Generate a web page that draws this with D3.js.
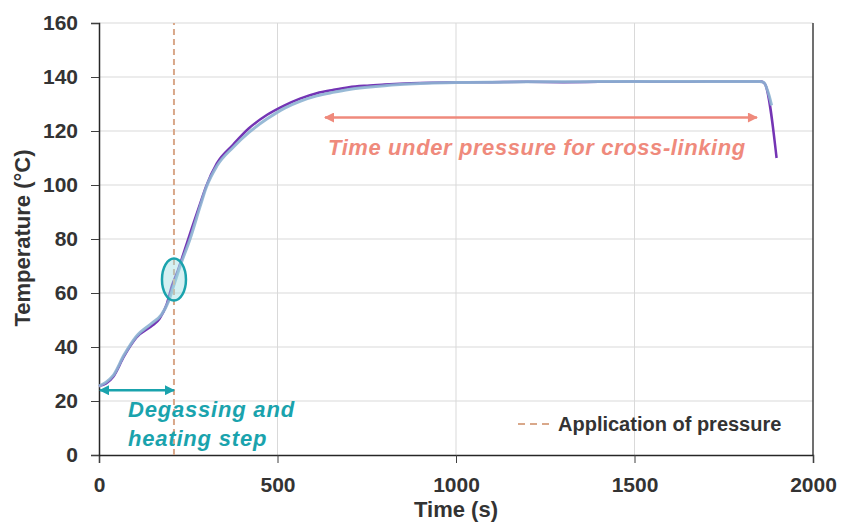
<!DOCTYPE html>
<html>
<head>
<meta charset="utf-8">
<script src="https://cdn.jsdelivr.net/npm/d3@7"></script>
<style>
  body { margin: 0; background: #fff; }
  svg { display: block; font-family: "Liberation Sans", Arial, sans-serif; }
</style>
</head>
<body>
<div id="chart"></div>
<script>
// time (s) and temperature (°C)
var purpleTime = [0, 20, 40, 70, 105, 150, 170, 190, 205, 220, 240, 260, 283, 300, 330, 376, 420, 471, 520, 563, 610, 655, 700, 751, 800, 843, 900, 1000, 1100, 1200, 1300, 1400, 1500, 1600, 1700, 1800, 1855, 1865, 1898];
var purpleTemp = [25.5, 26.5, 29, 36.5, 43.5, 48, 50.5, 56, 63, 68, 76, 84, 93, 99.5, 108, 115, 121, 126, 129.5, 132, 134, 135.2, 136.2, 136.8, 137.2, 137.5, 137.8, 138, 138.1, 138.2, 138.1, 138.2, 138.3, 138.2, 138.3, 138.3, 138.3, 137.5, 110];

var blueTime = [0, 20, 40, 70, 105, 150, 175, 195, 210, 230, 255, 283, 300, 330, 376, 420, 471, 520, 563, 610, 655, 700, 751, 800, 843, 900, 936, 1000, 1031, 1121, 1200, 1300, 1400, 1500, 1600, 1700, 1800, 1850, 1862, 1875, 1884];
var blueTemp = [25.5, 27, 29.5, 37, 44, 49, 52, 57, 63, 71, 80, 92, 99, 107, 114, 119.5, 124.5, 128.5, 131, 133, 134.3, 135.4, 136.2, 136.8, 137.2, 137.6, 137.8, 138, 138, 138.1, 138.2, 138.2, 138.3, 138.3, 138.3, 138.3, 138.3, 138.3, 138, 134, 129.5];

var xTicks = [0, 500, 1000, 1500, 2000];
var yTicks = [0, 20, 40, 60, 80, 100, 120, 140, 160];

var pressureTime = 210;          // application of pressure
var circledPoint = [210, 65];    // time, temperature
var degasSpan = [0, 210, 24];    // from, to, temperature level
var crossSpan = [633, 1843, 125];

var width = 841, height = 527;
var margin = {top: 23, right: 28, bottom: 72, left: 99};

var svg = d3.select("#chart").append("svg")
    .attr("width", width)
    .attr("height", height);

var x = d3.scaleLinear().domain([0, 2000]).range([margin.left, width - margin.right]);
var y = d3.scaleLinear().domain([0, 160]).range([height - margin.bottom, margin.top]);

// gridlines
svg.append("g").selectAll("line.hgrid")
    .data(yTicks.slice(1))
    .enter().append("line")
    .attr("x1", x(0)).attr("x2", x(2000))
    .attr("y1", y).attr("y2", y)
    .style("stroke", "#d9d9d9").style("stroke-width", 1);

svg.append("g").selectAll("line.vgrid")
    .data(xTicks.slice(1, -1))
    .enter().append("line")
    .attr("x1", x).attr("x2", x)
    .attr("y1", y(0)).attr("y2", y(160))
    .style("stroke", "#d9d9d9").style("stroke-width", 1);

// right border
svg.append("line")
    .attr("x1", x(2000)).attr("x2", x(2000))
    .attr("y1", y(0)).attr("y2", y(160))
    .style("stroke", "#404040").style("stroke-width", 1.5);

// axes
var xAxis = svg.append("g")
    .attr("transform", "translate(0," + y(0) + ")")
    .call(d3.axisBottom(x).tickValues(xTicks).tickFormat(d3.format("d")).tickSize(8).tickPadding(14));
var yAxis = svg.append("g")
    .attr("transform", "translate(" + x(0) + ",0)")
    .call(d3.axisLeft(y).tickValues(yTicks).tickSize(8).tickPadding(13));

[xAxis, yAxis].forEach(function (a) {
    a.select(".domain").style("stroke", "#262626").style("stroke-width", 1.5);
    a.selectAll(".tick line").style("stroke", "#404040");
    a.selectAll("text")
        .style("font-size", "21px")
        .style("font-weight", "bold")
        .style("fill", "#333");
});

svg.append("text")
    .attr("x", (x(0) + x(2000)) / 2)
    .attr("y", 517)
    .attr("text-anchor", "middle")
    .style("font-size", "22px").style("font-weight", "bold").style("fill", "#333")
    .text("Time (s)");

svg.append("text")
    .attr("transform", "translate(30," + 238 + ") rotate(-90)")
    .attr("text-anchor", "middle")
    .style("font-size", "22px").style("font-weight", "bold").style("fill", "#333")
    .text("Temperature (°C)");

// curves
var line = d3.line()
    .x(function (d) { return x(d[0]); })
    .y(function (d) { return y(d[1]); })
    .curve(d3.curveMonotoneX);

svg.append("path")
    .datum(d3.zip(purpleTime, purpleTemp))
    .attr("d", line)
    .style("fill", "none")
    .style("stroke", "#7434b4")
    .style("stroke-width", 2.5);

svg.append("path")
    .datum(d3.zip(blueTime, blueTemp))
    .attr("d", line)
    .style("fill", "none")
    .style("stroke", "#8db2d2")
    .style("stroke-opacity", 0.9)
    .style("stroke-width", 3);

// pressure line
svg.append("line")
    .attr("x1", x(pressureTime)).attr("x2", x(pressureTime))
    .attr("y1", y(0)).attr("y2", y(160))
    .style("stroke", "#d9a88a")
    .style("stroke-width", 2)
    .style("stroke-dasharray", "6,4");

// circled point
svg.append("ellipse")
    .attr("cx", x(circledPoint[0])).attr("cy", y(circledPoint[1]))
    .attr("rx", 12).attr("ry", 21)
    .style("fill", "#9fdde2").style("fill-opacity", 0.45)
    .style("stroke", "#1aa3ad").style("stroke-width", 2.5);

// arrows
var defs = svg.append("defs");
function marker(id, color) {
    defs.append("marker")
        .attr("id", id)
        .attr("viewBox", "0 0 10 10")
        .attr("refX", 9).attr("refY", 5)
        .attr("markerWidth", 4.5).attr("markerHeight", 4)
        .attr("markerUnits", "strokeWidth")
        .attr("orient", "auto-start-reverse")
        .append("path")
        .attr("d", "M0,0 L10,5 L0,10 z")
        .style("fill", color);
}
marker("tealHead", "#1aa3ad");
marker("salmonHead", "#ef8a7c");

svg.append("line")
    .attr("x1", x(degasSpan[0]) + 1).attr("x2", x(degasSpan[1]))
    .attr("y1", y(degasSpan[2])).attr("y2", y(degasSpan[2]))
    .style("stroke", "#1aa3ad").style("stroke-width", 2.5)
    .attr("marker-start", "url(#tealHead)")
    .attr("marker-end", "url(#tealHead)");

svg.append("line")
    .attr("x1", x(crossSpan[0])).attr("x2", x(crossSpan[1]))
    .attr("y1", y(crossSpan[2])).attr("y2", y(crossSpan[2]))
    .style("stroke", "#ef8a7c").style("stroke-width", 2.5)
    .attr("marker-start", "url(#salmonHead)")
    .attr("marker-end", "url(#salmonHead)");

svg.append("text")
    .attr("x", 328).attr("y", 155)
    .style("font-size", "22px").style("font-weight", "bold").style("font-style", "italic")
    .style("letter-spacing", "0.6px")
    .style("fill", "#ef8a7c")
    .text("Time under pressure for cross-linking");

var degas = svg.append("text")
    .style("font-size", "22px").style("font-weight", "bold").style("font-style", "italic")
    .style("letter-spacing", "0.8px")
    .style("fill", "#1aa3ad");
degas.append("tspan").attr("x", 128).attr("y", 417).text("Degassing and");
degas.append("tspan").attr("x", 128).attr("y", 446).text("heating step");

// legend
svg.append("line")
    .attr("x1", 518).attr("x2", 553)
    .attr("y1", 424).attr("y2", 424)
    .style("stroke", "#d9a88a").style("stroke-width", 2)
    .style("stroke-dasharray", "7,5");
svg.append("text")
    .attr("x", 558).attr("y", 431)
    .style("font-size", "20px").style("font-weight", "bold").style("fill", "#333")
    .text("Application of pressure");
</script>
</body>
</html>
